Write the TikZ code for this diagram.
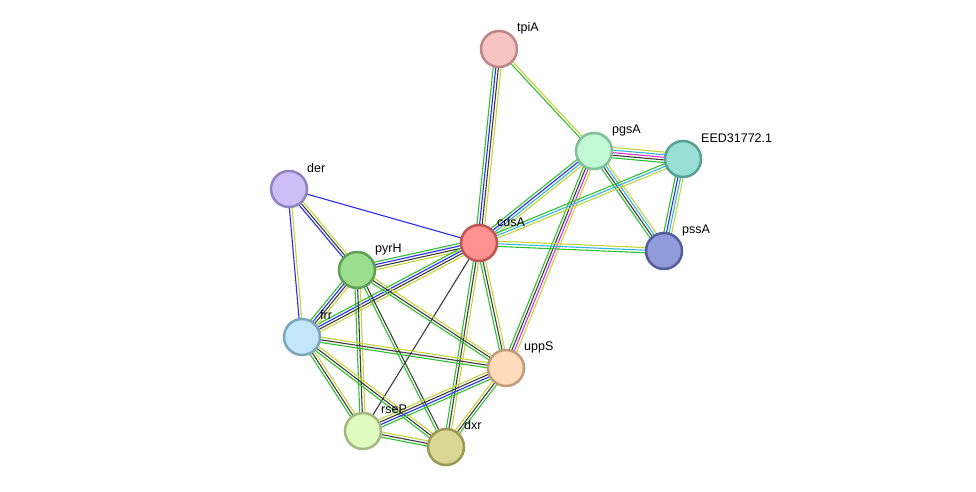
\documentclass[tikz,border=0pt]{standalone}
\usepackage{fontspec}
\setmainfont{Liberation Sans}
\usetikzlibrary{calc}
\pgfdeclarelayer{bg}
\pgfsetlayers{bg,main}
\definecolor{cg}{HTML}{2EC02E}
\definecolor{cb}{HTML}{2A2AF5}
\definecolor{ck}{HTML}{3C3C3C}
\definecolor{cm}{HTML}{DD30DD}
\definecolor{cc}{HTML}{30B5DD}
\definecolor{cy}{HTML}{C2D43A}
\tikzset{
  eg/.style={draw=cg}, eb/.style={draw=cb}, ek/.style={draw=ck},
  em/.style={draw=cm}, ec/.style={draw=cc}, ey/.style={draw=cy},
  prot/.style={circle, minimum size=36pt, inner sep=0pt, line width=2.5pt},
  lbl/.style={anchor=west, font=\fontsize{12.5}{14}\selectfont, inner sep=1pt}
}
\newcommand\lnk[3]{%
  \foreach \ecol [count=\i] in {#3}{\xdef\nlines{\i}}%
  \foreach \ecol [count=\i] in {#3}{%
    \pgfmathsetmacro\off{(\i-(\nlines+1)/2)*2.6}%
    \draw[\ecol, line width=1.1pt] ($(#1.center)!\off pt!90:(#2.center)$) -- ($(#2.center)!\off pt!-90:(#1.center)$);
  }%
}
\begin{document}
\begin{tikzpicture}[x=1pt,y=-1pt]
\useasboundingbox (0,0) rectangle (976,492);
\node[prot, fill={rgb,255:red,247;green,196;blue,196}, draw={rgb,255:red,190;green,135;blue,135}] (tpiA) at (499,49) {};
\node[prot, fill={rgb,255:red,194;green,248;blue,214}, draw={rgb,255:red,128;green,192;blue,152}] (pgsA) at (594,151) {};
\node[prot, fill={rgb,255:red,154;green,223;blue,214}, draw={rgb,255:red,88;green,160;blue,150}] (EED) at (683,159) {};
\node[prot, fill={rgb,255:red,207;green,190;blue,245}, draw={rgb,255:red,146;green,130;blue,192}] (der) at (289,189) {};
\node[prot, fill={rgb,255:red,255;green,145;blue,145}, draw={rgb,255:red,190;green,85;blue,85}] (cdsA) at (479,243) {};
\node[prot, fill={rgb,255:red,144;green,155;blue,218}, draw={rgb,255:red,82;green,94;blue,156}] (pssA) at (664,251) {};
\node[prot, fill={rgb,255:red,154;green,222;blue,142}, draw={rgb,255:red,95;green,158;blue,85}] (pyrH) at (357,270) {};
\node[prot, fill={rgb,255:red,194;green,230;blue,250}, draw={rgb,255:red,125;green,165;blue,190}] (frr) at (302,337) {};
\node[prot, fill={rgb,255:red,254;green,220;blue,186}, draw={rgb,255:red,190;green,155;blue,122}] (uppS) at (506,368) {};
\node[prot, fill={rgb,255:red,224;green,250;blue,191}, draw={rgb,255:red,160;green,185;blue,128}] (rseP) at (363,431) {};
\node[prot, fill={rgb,255:red,218;green,214;blue,147}, draw={rgb,255:red,155;green,152;blue,85}] (dxr) at (446,447) {};
\node[lbl] at (516,28) {tpiA};
\node[lbl] at (611,130) {pgsA};
\node[lbl] at (700,138) {EED31772.1};
\node[lbl] at (306,168) {der};
\node[lbl] at (496,222) {cdsA};
\node[lbl] at (681,230) {pssA};
\node[lbl] at (374,249) {pyrH};
\node[lbl] at (319,315) {frr};
\node[lbl] at (523,347) {uppS};
\node[lbl] at (380,409) {rseP};
\node[lbl] at (463,425) {dxr};
\begin{pgfonlayer}{bg}
\lnk{tpiA}{cdsA}{eg,eb,ek,ey}
\lnk{tpiA}{pgsA}{eg,ey}
\lnk{pgsA}{EED}{eg,ek,em,ec,ey}
\lnk{pgsA}{pssA}{eg,ek,ec,ey}
\lnk{pgsA}{cdsA}{eg,eb,ec,ey}
\lnk{pgsA}{uppS}{eg,ek,em,ey}
\lnk{EED}{cdsA}{eg,ec,ey}
\lnk{EED}{pssA}{eg,eb,ec,ey}
\lnk{cdsA}{pssA}{eg,ec,ey}
\lnk{der}{cdsA}{eb}
\lnk{der}{pyrH}{eb,ek,ey}
\lnk{der}{frr}{eb,ey}
\lnk{cdsA}{pyrH}{eg,eb,ek,ey}
\lnk{cdsA}{frr}{eg,eb,ek,ey}
\lnk{cdsA}{uppS}{eg,ek,ey}
\lnk{cdsA}{rseP}{ek}
\lnk{cdsA}{dxr}{eg,ek,ey}
\lnk{pyrH}{frr}{eg,eb,ek,ey}
\lnk{pyrH}{uppS}{eg,ek,ey}
\lnk{pyrH}{rseP}{eg,ek,ey}
\lnk{pyrH}{dxr}{eg,ek}
\lnk{frr}{uppS}{eg,ek,ey}
\lnk{frr}{rseP}{eg,ek,ey}
\lnk{frr}{dxr}{eg,ek,ey}
\lnk{rseP}{uppS}{eg,eb,ek,ey}
\lnk{rseP}{dxr}{eg,ek,ey}
\lnk{dxr}{uppS}{eg,ek,ey}
\end{pgfonlayer}
\end{tikzpicture}
\end{document}
